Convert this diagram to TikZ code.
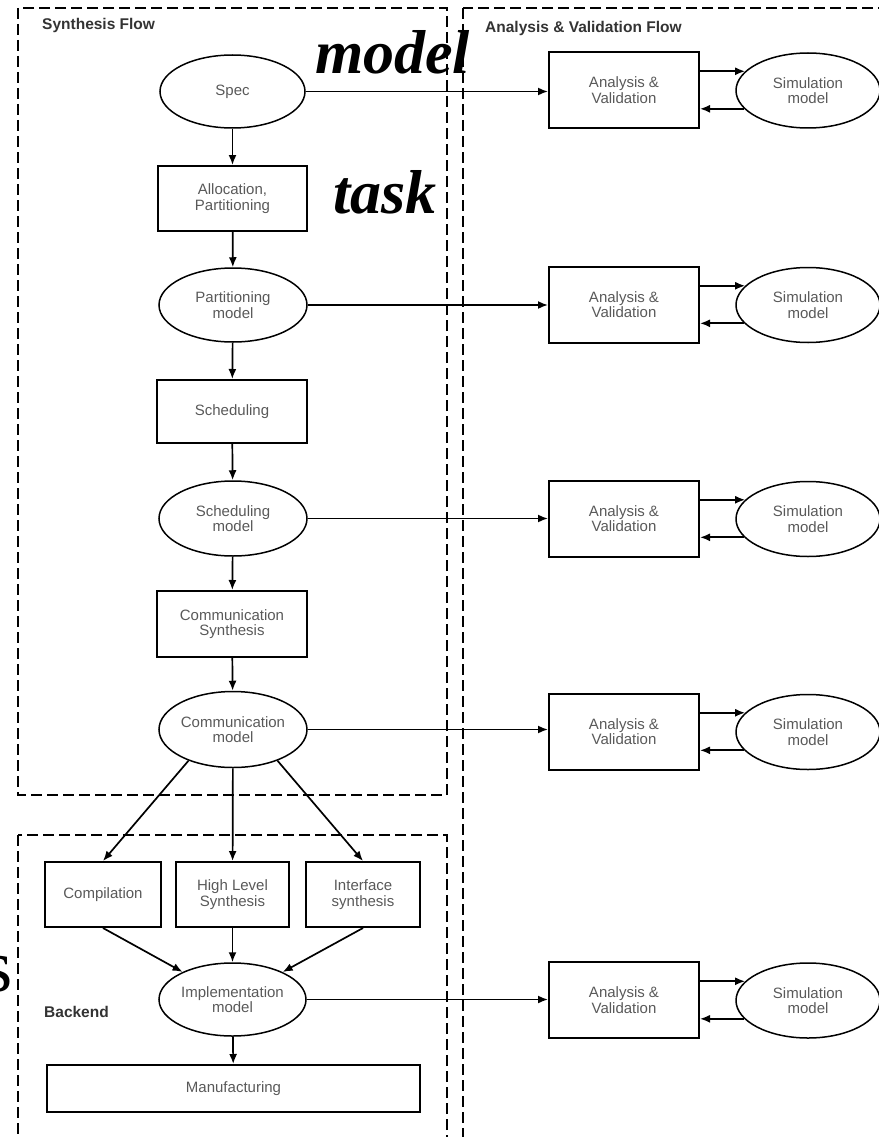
\documentclass[tikz,border=0pt]{standalone}
\usepackage{fontspec}
\setmainfont{Liberation Sans}
\newfontfamily\bigserif{Liberation Serif}
\usetikzlibrary{shapes.geometric,arrows.meta}

\newcommand\nodesize{\fontsize{15}{15.5}\selectfont}

\begin{document}
\begin{tikzpicture}[x=1pt,y=-1pt,
  box/.style={draw, rectangle, line width=2pt, inner sep=0pt, align=center,
    font=\nodesize, text=black!65},
  oval/.style={draw, ellipse, line width=1.5pt, inner sep=0pt, align=center,
    font=\nodesize, text=black!65},
  link/.style={line width=1.7pt, -{Latex[length=10pt,width=8pt]}},
  frame/.style={line width=1.7pt, dash pattern=on 11pt off 5pt},
  heading/.style={font=\bfseries\fontsize{15.5}{16}\selectfont, text=black!80,
    anchor=base west, inner sep=0pt},
  bigword/.style={font=\bigserif\bfseries\itshape\fontsize{62}{62}\selectfont,
    inner sep=0pt, anchor=base west},
  bigletter/.style={font=\bigserif\fontsize{75}{75}\selectfont,
    inner sep=0pt, anchor=base east}
]
\useasboundingbox (0,0) rectangle (878,1137);

% dashed frames
\draw[frame] (18,8) rectangle (447,795);
\draw[frame] (463,8) rectangle (900,1160);
\draw[frame] (18,835) rectangle (447,1160);

\node[heading] (synthtitle) at (42,30) {Synthesis Flow};
\node[heading] (avtitle) at (485,33) {Analysis \& Validation Flow};
\node[heading] (backtitle) at (44,1017) {Backend};

% synthesis chain
\node[oval, minimum width=145pt, minimum height=73pt] (spec) at (232.5,91.5) {Spec};
\node[box, minimum width=149pt, minimum height=65pt] (alloc) at (232.5,198.5) {Allocation,\\Partitioning};
\node[oval, minimum width=148pt, minimum height=74pt] (part) at (233,305) {Partitioning\\model};
\node[box, minimum width=150pt, minimum height=63pt] (sched) at (232,411.5) {Scheduling};
\node[oval, minimum width=148pt, minimum height=75pt] (schedm) at (233,518.5) {Scheduling\\model};
\node[box, minimum width=150pt, minimum height=66pt] (comms) at (232,624) {Communication\\Synthesis};
\node[oval, minimum width=148pt, minimum height=76pt] (commm) at (233,729.5) {Communication\\model};

% backend
\node[box, minimum width=116pt, minimum height=65pt] (comp) at (103,894.5) {Compilation};
\node[box, minimum width=113pt, minimum height=65pt] (hls) at (232.5,894.5) {High Level\\Synthesis};
\node[box, minimum width=114pt, minimum height=65pt] (intf) at (363,894.5) {Interface\\synthesis};
\node[oval, minimum width=147pt, minimum height=73pt] (impl) at (232.5,999.5) {Implementation\\model};
\node[box, minimum width=373pt, minimum height=47pt] (manu) at (233.5,1088.5) {Manufacturing};

\draw[link] (spec) -- (alloc);
\draw[link] (alloc) -- (part);
\draw[link] (part) -- (sched);
\draw[link] (sched) -- (schedm);
\draw[link] (schedm) -- (comms);
\draw[link] (comms) -- (commm);
\draw[link] (commm.215) -- (comp.north);
\draw[link] (commm) -- (hls);
\draw[link] (commm.325) -- (intf.north);
\draw[link] (comp.south) -- (impl);
\draw[link] (hls) -- (impl);
\draw[link] (intf.south) -- (impl);
\draw[link] (impl) -- (manu);

% analysis & validation rows
\foreach \i/\y/\src in {1/90/spec, 2/304.5/part, 3/518.5/schedm, 4/731.5/commm, 5/1000/impl} {
  \node[box, minimum width=150pt, minimum height=76pt] (av\i) at (624,\y) {Analysis \&\\Validation};
  \node[oval, minimum width=144pt, minimum height=75pt] (sim\i) at (808,\y+0.5) {Simulation\\model};
  \draw[link] (\src.east) -- (\src.east -| av\i.west);
  \draw[link] (av\i.east |- sim\i.163.5) -- (sim\i.163.5);
  \draw[link] (sim\i.196.5) -- (av\i.east |- sim\i.196.5);
}

% large overlaid words
\node[bigword] (wmodel) at (315,74) {model};
\node[bigword] (wtask) at (333,213) {task};
\node[bigletter] (wletter) at (13,991) {s};
\end{tikzpicture}
\end{document}
